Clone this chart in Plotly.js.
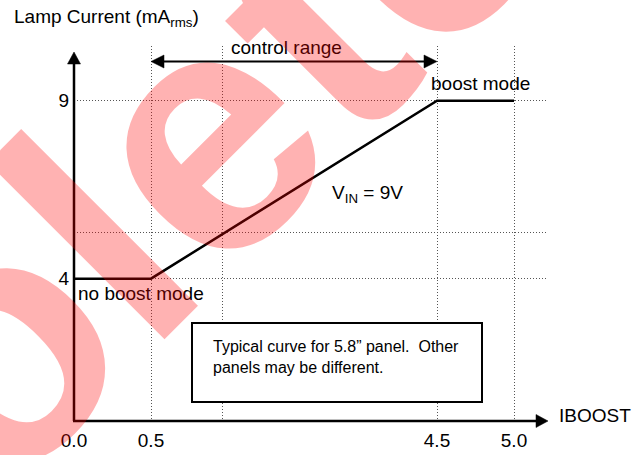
<!DOCTYPE html>
<html>
<head>
<meta charset="utf-8">
<script src="https://cdn.plot.ly/plotly-3.0.1.min.js"></script>
<style>html,body{margin:0;padding:0;background:#fff;}#chart{width:640px;height:455px;}</style>
</head>
<body>
<div id="chart"></div>
<script>
// ---- data ----
const iboost = [0, 0.5, 4.5, 5.0];
const lampCurrent = [4, 4, 9, 9];
const xTickValues = [0, 0.5, 4.5, 5.0];
const xTickLabels = ['0.0', '0.5', '4.5', '5.0'];
const xExtraGrid = [1.5];
const yTickValues = [4, 9];
const yTickLabels = ['4', '9'];
const yExtraGrid = [5.3];

// ---- broken (schematic) x scale: the 0.5..4.5 segment is compressed ----
const MID = 0.4643;
function xmap(v) {
  if (v <= 0.5) return v;
  if (v <= 4.5) return 0.5 + (v - 0.5) * MID;
  return 0.5 + 4 * MID + (v - 4.5);
}

// ---- layout geometry ----
const W = 640, H = 455;
const M = {l: 74, r: 92, t: 46, b: 34};
const PW = W - M.l - M.r, PH = H - M.t - M.b;
const PPX = 154, PPY = 35.59;
// pixel -> paper helpers for decorations
const px = v => (v - M.l) / PW;
const py = v => (H - M.b - v) / PH;

const FONT = 'Arial, "Liberation Sans", sans-serif';
const black = '#000';
const GRID = {showgrid: true, gridcolor: '#555', gridwidth: 1, griddash: '1px,2px'};

const tri = (pts) => 'M ' + pts.map(p => px(p[0]) + ',' + py(p[1])).join(' L ') + ' Z';

const shapes = [
  // y axis + arrow
  {type: 'line', xref: 'paper', yref: 'paper', x0: px(74), y0: py(421), x1: px(74), y1: py(63), line: {color: black, width: 2.5}},
  {type: 'path', xref: 'paper', yref: 'paper', path: tri([[67.5, 64], [80.5, 64], [74, 52]]), fillcolor: black, line: {color: black, width: 0.5}},
  // x axis + arrow
  {type: 'line', xref: 'paper', yref: 'paper', x0: px(73), y0: py(421), x1: px(537), y1: py(421), line: {color: black, width: 2.5}},
  {type: 'path', xref: 'paper', yref: 'paper', path: tri([[536, 414.5], [536, 427.5], [548, 421]]), fillcolor: black, line: {color: black, width: 0.5}},
  // control range double arrow
  {type: 'line', xref: 'paper', yref: 'paper', x0: px(162), y0: py(61.5), x1: px(426), y1: py(61.5), line: {color: black, width: 2}},
  {type: 'path', xref: 'paper', yref: 'paper', path: tri([[164, 55], [164, 68], [151, 61.5]]), fillcolor: black, line: {color: black, width: 0.5}},
  {type: 'path', xref: 'paper', yref: 'paper', path: tri([[424, 55], [424, 68], [437, 61.5]]), fillcolor: black, line: {color: black, width: 0.5}},
  // note box
  {type: 'rect', xref: 'paper', yref: 'paper', x0: px(192), y0: py(402), x1: px(482), y1: py(323), fillcolor: '#fff', line: {color: black, width: 2}}
];

const annotations = [
  {xref: 'paper', yref: 'paper', x: px(12), y: py(18), xanchor: 'left', yanchor: 'middle', showarrow: false,
   text: 'Lamp Current (mA<sub>rms</sub>)', font: {family: FONT, size: 19, color: black}},
  {xref: 'paper', yref: 'paper', x: px(286), y: py(47), xanchor: 'center', yanchor: 'middle', showarrow: false,
   text: 'control range', font: {family: FONT, size: 19, color: black}},
  {xref: 'paper', yref: 'paper', x: px(429), y: py(83), xanchor: 'left', yanchor: 'middle', showarrow: false,
   text: 'boost mode', font: {family: FONT, size: 19, color: black}},
  {xref: 'paper', yref: 'paper', x: px(76), y: py(293), xanchor: 'left', yanchor: 'middle', showarrow: false,
   text: 'no boost mode', font: {family: FONT, size: 19, color: black}},
  {xref: 'paper', yref: 'paper', x: px(330), y: py(194), xanchor: 'left', yanchor: 'middle', showarrow: false,
   text: 'V<sub>IN</sub> = 9V', font: {family: FONT, size: 19, color: black}},
  {xref: 'paper', yref: 'paper', x: px(557), y: py(415), xanchor: 'left', yanchor: 'middle', showarrow: false,
   text: 'IBOOST', font: {family: FONT, size: 19, color: black}},
  {xref: 'paper', yref: 'paper', x: px(211), y: py(356.5), xanchor: 'left', yanchor: 'middle', align: 'left', showarrow: false,
   text: 'Typical curve for 5.8” panel.&nbsp; Other<br>panels may be different.', font: {family: FONT, size: 16, color: black}},
  // watermark
  {xref: 'paper', yref: 'paper', x: px(-39), y: py(373), xanchor: 'center', yanchor: 'middle', showarrow: false,
   textangle: -45, text: '<b>Obsolete</b>', font: {family: FONT, size: 345, color: 'rgba(255,0,0,0.3)'}}
];

const trace = {
  type: 'scatter', mode: 'lines',
  x: iboost.map(xmap), y: lampCurrent,
  line: {color: black, width: 2.5},
  hoverinfo: 'skip', showlegend: false
};

const layout = {
  width: W, height: H,
  margin: M,
  paper_bgcolor: '#fff', plot_bgcolor: '#fff',
  font: {family: FONT, size: 19, color: black},
  showlegend: false,
  xaxis: Object.assign({
    range: [0, PW / PPX], tickmode: 'array',
    tickvals: xTickValues.map(xmap), ticktext: xTickLabels,
    zeroline: false, showline: false, ticks: '', fixedrange: true,
    ticklabelstandoff: 6,
    tickfont: {family: FONT, size: 19, color: black},
    minor: Object.assign({tickmode: 'array', tickvals: xExtraGrid.map(xmap), ticks: ''}, GRID)
  }, GRID),
  yaxis: Object.assign({
    range: [0, PH / PPY], tickmode: 'array',
    tickvals: yTickValues, ticktext: yTickLabels,
    zeroline: false, showline: false, ticks: '', fixedrange: true,
    ticklabelstandoff: 4,
    tickfont: {family: FONT, size: 19, color: black},
    minor: Object.assign({tickmode: 'array', tickvals: yExtraGrid, ticks: ''}, GRID)
  }, GRID),
  shapes: shapes,
  annotations: annotations
};

Plotly.newPlot('chart', [trace], layout, {staticPlot: true, displayModeBar: false});
</script>
</body>
</html>
